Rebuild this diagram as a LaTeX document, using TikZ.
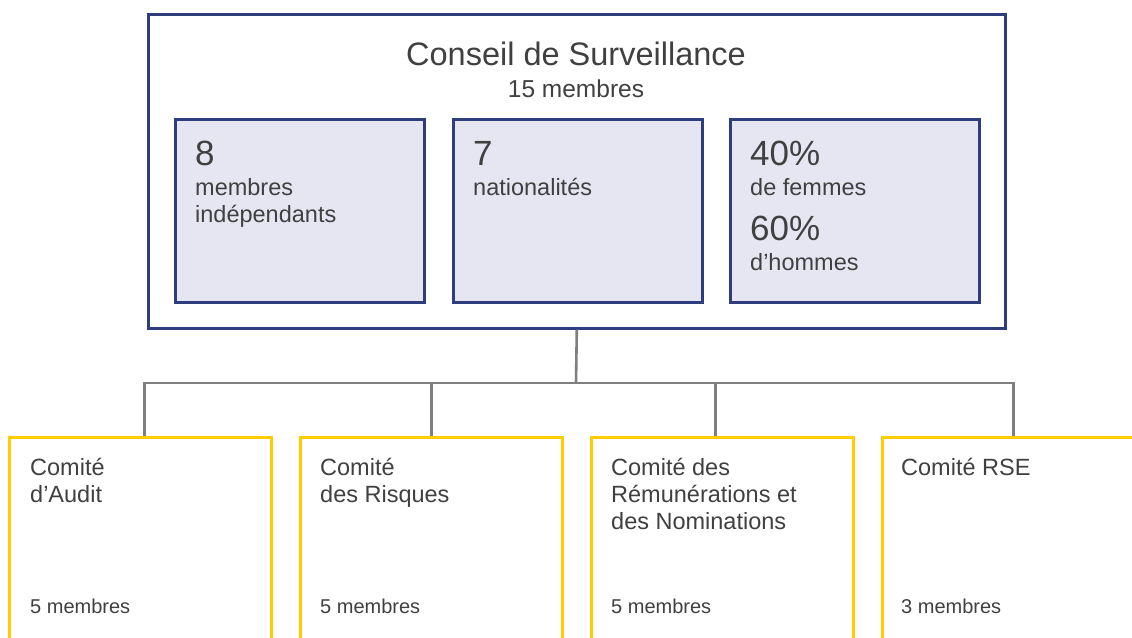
\documentclass[tikz,border=0pt]{standalone}
\usepackage{fontspec}
\setmainfont{Liberation Sans}
\definecolor{navy}{HTML}{2E3D7C}
\definecolor{lav}{HTML}{E5E6F2}
\definecolor{gold}{HTML}{FFCC00}
\definecolor{txt}{HTML}{404040}
\definecolor{conn}{HTML}{7F7F7F}
\begin{document}
\begin{tikzpicture}[x=1pt,y=-1pt,
  boardbox/.style={draw=navy, line width=2.6pt, anchor=north west, minimum width=857pt, minimum height=314pt, inner sep=0pt},
  statbox/.style={draw=navy, fill=lav, line width=2.6pt, anchor=north west, minimum width=249pt, minimum height=183pt, inner sep=0pt},
  combox/.style={draw=gold, line width=2.6pt, anchor=north west, minimum width=262pt, minimum height=260pt, inner sep=0pt},
  link/.style={draw=conn, line width=2.6pt},
  txtstyle/.style={text=txt, anchor=base west, inner sep=0pt},
  big/.style={txtstyle, font=\fontsize{35}{40}\selectfont},
  mid/.style={txtstyle, font=\fontsize{23.5}{27}\selectfont, align=left},
  small/.style={txtstyle, font=\fontsize{20}{24}\selectfont}
]
\useasboundingbox (0,0) rectangle (1132,637);
\clip (0,0) rectangle (1132,637);
\fill[white] (0,0) rectangle (1132,637);

% board
\node[boardbox] (board) at (147,13) {};
\node[text=txt, anchor=base, inner sep=0pt, font=\fontsize{32.5}{38}\selectfont] (title) at (576,65) {Conseil de Surveillance};
\node[text=txt, anchor=base, inner sep=0pt, font=\fontsize{24.5}{28}\selectfont] (sub) at (576,97) {15 membres};

% stat boxes
\node[statbox] (s1) at (174,118) {};
\node[statbox] (s2) at (452,118) {};
\node[statbox] (s3) at (729,118) {};

\node[big] (n1) at (195,165) {8};
\node[mid] (t1a) at (195,195) {membres};
\node[mid] (t1b) at (195,222) {indépendants};

\node[big] (n2) at (473,165) {7};
\node[mid] (t2) at (473,195) {nationalités};

\node[big] (n3) at (750,165) {40\%};
\node[mid] (t3) at (750,195) {de femmes};
\node[big] (n4) at (750,240) {60\%};
\node[mid] (t4) at (750,270) {d’hommes};

% committees
\node[combox] (c1) at (8,436) {};
\node[combox] (c2) at (299,436) {};
\node[combox] (c3) at (590,436) {};
\node[combox] (c4) at (881,436) {};

\node[mid] (a1) at (30,475) {Comité};
\node[mid] (a2) at (30,502) {d’Audit};
\node[small] (a3) at (30,613) {5 membres};

\node[mid] (b1) at (320,475) {Comité};
\node[mid] (b2) at (320,502) {des Risques};
\node[small] (b3) at (320,613) {5 membres};

\node[mid] (d1) at (611,475) {Comité des};
\node[mid] (d2) at (611,502) {Rémunérations et};
\node[mid] (d3) at (611,529) {des Nominations};
\node[small] (d4) at (611,613) {5 membres};

\node[mid] (e1) at (901,475) {Comité RSE};
\node[small] (e2) at (901,613) {3 membres};

% connectors
\coordinate (bus) at (576,383);
\draw[link] (board.south) -- (bus);
\draw[link] ([xshift=4pt]c1.north) |- (bus);
\draw[link] (c4.north) |- (bus);
\draw[link] (c2.north) -- (c2.north |- bus);
\draw[link] ([xshift=-7pt]c3.north) -- ([xshift=-7pt]c3.north |- bus);
\end{tikzpicture}
\end{document}
